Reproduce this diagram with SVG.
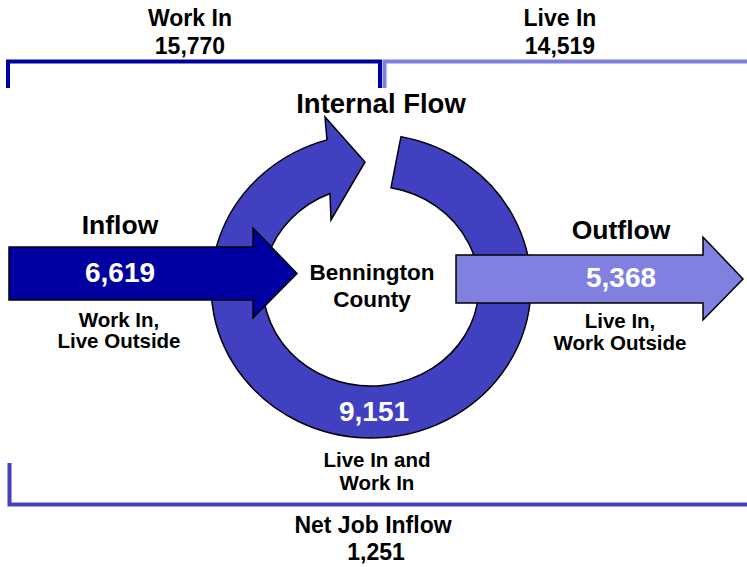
<svg xmlns="http://www.w3.org/2000/svg" width="747" height="567" viewBox="0 0 747 567">
<style>
text{font-family:"Liberation Sans",Arial,sans-serif;font-weight:bold;text-anchor:middle;fill:#000}
.w{fill:#fff}
.s{stroke:#000;stroke-width:1.5;stroke-linejoin:miter}
.br{fill:none;stroke-width:4}
</style>
<rect width="747" height="567" fill="#fff"/>
<g id="connectors">
<path class="br" d="M8,88 V61.5 H380 V88" stroke="#0000A0"/>
<path class="br" d="M384.5,88 V61.5 H747" stroke="#8080E0"/>
<path class="br" d="M9.5,463 V504.5 H747" stroke="#4040C0" stroke-width="4.5"/>
</g>
<g id="internal-flow">
<path class="s" fill="#4040C0" d="M401,136.7 A160,152 0 1 1 327,139.86 L325,117 L365,162 L331,220 L330,193.49 A108,100 0 1 0 391,187.73 Z"/>
<text x="381" y="113" font-size="27.5">Internal Flow</text>
<text class="w" x="374" y="421" font-size="28">9,151</text>
<text x="377" y="467" font-size="20.5">Live In and</text>
<text x="377" y="490" font-size="20.5">Work In</text>
</g>
<g id="inflow">
<path class="s" fill="#0000A0" d="M9,247 H253 V228 L297,273.5 L253,318 V300 H9 Z"/>
<text x="120" y="234" font-size="26.5">Inflow</text>
<text class="w" x="120" y="282" font-size="28">6,619</text>
<text x="119" y="327" font-size="20.5">Work In,</text>
<text x="119" y="348" font-size="20.5">Live Outside</text>
</g>
<g id="outflow">
<path class="s" fill="#8080E0" d="M456,255 H703 V237 L743,279 L703,320 V303 H456 Z"/>
<text x="621" y="239" font-size="26.5">Outflow</text>
<text class="w" x="621" y="287" font-size="28">5,368</text>
<text x="620" y="328" font-size="20.5">Live In,</text>
<text x="620" y="350" font-size="20.5">Work Outside</text>
</g>
<g id="county">
<text x="372" y="280" font-size="22.5">Bennington</text>
<text x="372" y="307" font-size="22.5">County</text>
</g>
<g id="work-in">
<text x="190" y="26" font-size="23">Work In</text>
<text x="190" y="54" font-size="23">15,770</text>
</g>
<g id="live-in">
<text x="560" y="26" font-size="23">Live In</text>
<text x="560" y="54" font-size="23">14,519</text>
</g>
<g id="net-job-inflow">
<text x="373" y="533" font-size="23">Net Job Inflow</text>
<text x="376" y="560" font-size="23">1,251</text>
</g>
</svg>
